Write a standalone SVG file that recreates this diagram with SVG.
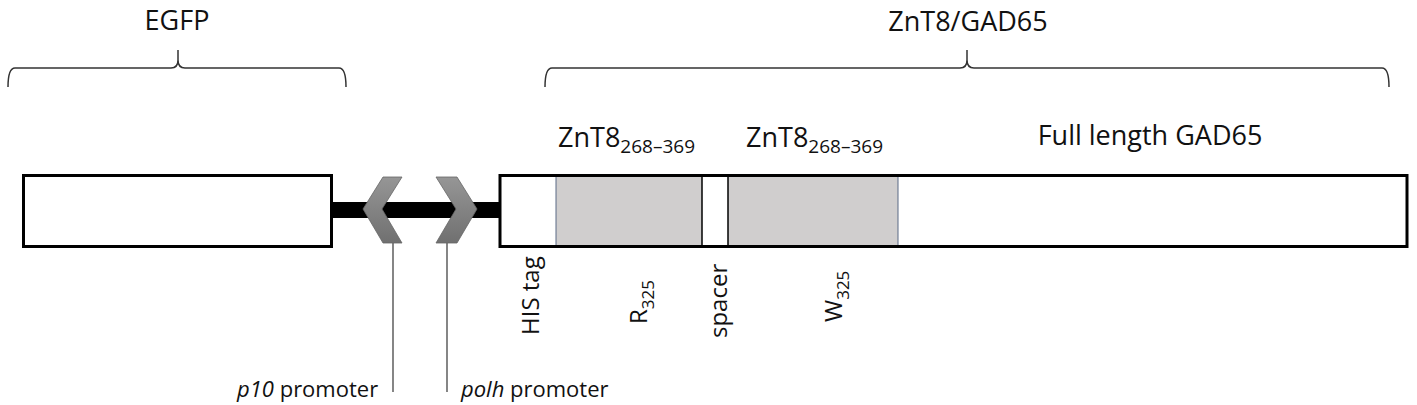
<svg xmlns="http://www.w3.org/2000/svg" width="1417" height="405" viewBox="0 0 1417 405">
<style>
text{font-family:"Open Sans","Liberation Sans",sans-serif;fill:#111}
.h{font-size:27px}
.v{font-size:24px}
.b{font-size:22px}
.sub{font-size:19px}
.vsub{font-size:17px}
.box{fill:#fff;stroke:#000;stroke-width:3}
.brace{fill:none;stroke:#333;stroke-width:1.5}
.lead{stroke:#444;stroke-width:1.3;fill:none}
.chev{fill:url(#g);stroke:#666;stroke-width:0.8}
</style>
<defs>
<linearGradient id="g" x1="0" y1="0" x2="0" y2="1">
<stop offset="0" stop-color="#969696"/>
<stop offset="1" stop-color="#707070"/>
</linearGradient>
</defs>
<rect width="1417" height="405" fill="#fff"/>

<g id="egfp-label">
<text class="h" x="177" y="30" text-anchor="middle">EGFP</text>
<path class="brace" d="M8,87 Q8,68 15,68 L171,68 Q178,68 178,60 L178,50 M178,60 Q178,68 185,68 L339,68 Q346,68 346,87"/>
</g>

<g id="znt8gad65-label">
<text class="h" x="968" y="31" text-anchor="middle">ZnT8/GAD65</text>
<path class="brace" d="M545,87 Q545,68 552,68 L960,68 Q967,68 967,60 L967,50 M967,60 Q967,68 974,68 L1382,68 Q1389,68 1389,87"/>
</g>

<g id="connectors">
<rect x="332" y="202" width="168" height="16" fill="#000"/>
<line class="lead" x1="393" y1="243" x2="393" y2="392"/>
<line class="lead" x1="447" y1="243" x2="447" y2="392"/>
</g>

<g id="egfp-box">
<rect class="box" x="23.5" y="175.5" width="308" height="71"/>
</g>

<g id="p10-promoter">
<polygon class="chev" points="402,177 383,177 363,209 383,243 402,243 382,209"/>
<text class="b" x="237" y="397"><tspan font-style="italic">p10</tspan> promoter</text>
</g>

<g id="polh-promoter">
<polygon class="chev" points="436,177 457,177 477,209 457,243 436,243 456,209"/>
<text class="b" x="461" y="397"><tspan font-style="italic">polh</tspan> promoter</text>
</g>

<g id="fusion-box">
<rect class="box" x="500" y="175.5" width="907" height="71"/>
<rect x="556" y="177" width="146" height="68" fill="#d0cece"/>
<rect x="728" y="177" width="170" height="68" fill="#d0cece"/>
<line x1="556" y1="177" x2="556" y2="245" stroke="#5b6b86" stroke-width="1"/>
<line x1="898" y1="177" x2="898" y2="245" stroke="#5b6b86" stroke-width="1"/>
<line x1="702" y1="177" x2="702" y2="245" stroke="#000" stroke-width="1.5"/>
<line x1="728" y1="177" x2="728" y2="245" stroke="#000" stroke-width="1.5"/>
</g>

<g id="znt8-r325">
<text class="h" x="558" y="147">ZnT8<tspan class="sub" dy="6">268–369</tspan></text>
<text class="v" transform="translate(647,324) rotate(-90)">R<tspan class="vsub" dy="7">325</tspan></text>
</g>

<g id="spacer">
<text class="v" transform="translate(727,338) rotate(-90)">spacer</text>
</g>

<g id="znt8-w325">
<text class="h" x="746" y="147">ZnT8<tspan class="sub" dy="6">268–369</tspan></text>
<text class="v" transform="translate(842,322) rotate(-90)">W<tspan class="vsub" dy="7">325</tspan></text>
</g>

<g id="his-tag">
<text class="v" transform="translate(539,335) rotate(-90)">HIS tag</text>
</g>

<g id="gad65">
<text class="h" x="1150" y="145" text-anchor="middle">Full length GAD65</text>
</g>
</svg>
